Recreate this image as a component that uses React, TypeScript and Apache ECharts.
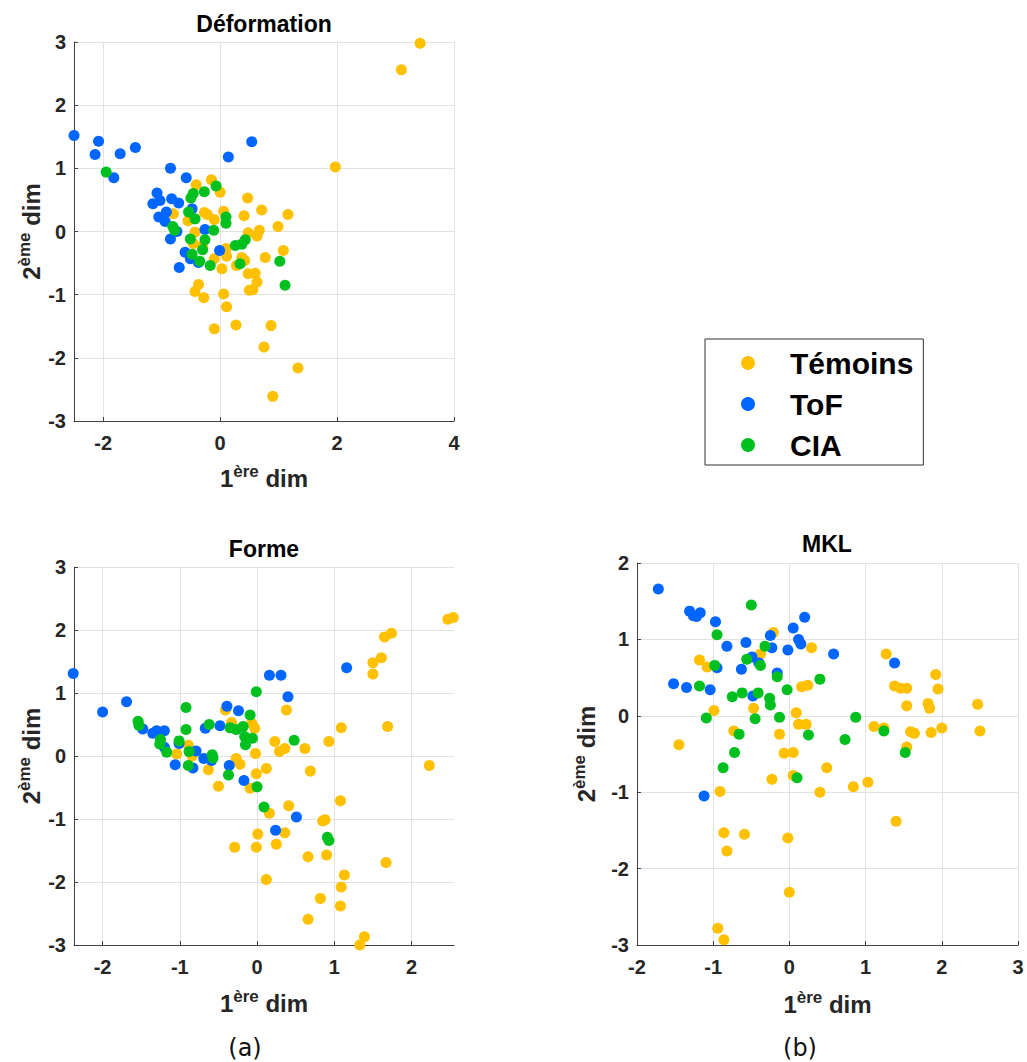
import React, { useEffect, useRef } from "react";
import * as echarts from "echarts";

const FONT = '"Liberation Sans", Arial, Helvetica, sans-serif';
const GROUPS = ["Témoins", "ToF", "CIA"];
const COLORS = ["#FFC000", "#0066FF", "#00C020"];

// ---- Déformation ----
const defTemoins = [
  [3.42, 2.98], [3.1, 2.56], [1.97, 1.02], [-0.41, 0.74], [-0.15, 0.82], [0.0, 0.62],
  [0.47, 0.53], [0.71, 0.34], [1.16, 0.27], [0.41, 0.25], [0.06, 0.32], [-0.27, 0.3],
  [-0.22, 0.27], [-0.1, 0.19], [-0.8, 0.28], [-0.55, 0.17], [-0.43, -0.01], [0.99, 0.08],
  [0.48, -0.02], [0.63, -0.07], [0.67, 0.02], [1.08, -0.3], [-0.46, -0.19], [-0.3, -0.23],
  [0.1, -0.27], [-0.1, -0.43], [0.03, -0.59], [0.11, -0.39], [0.28, -0.54], [0.37, -0.41],
  [0.42, -0.46], [0.77, -0.41], [0.48, -0.67], [0.6, -0.66], [0.63, -0.8], [0.5, -0.93],
  [0.56, -0.92], [-0.37, -0.84], [-0.43, -0.95], [-0.28, -1.05], [0.06, -0.99], [0.11, -1.19],
  [-0.1, -1.54], [0.27, -1.48], [0.87, -1.49], [0.75, -1.83], [1.33, -2.16], [0.9, -2.61],
];
const defToF = [
  [-2.5, 1.52], [-2.08, 1.43], [-2.14, 1.22], [-1.71, 1.23], [-1.45, 1.33], [-1.82, 0.85],
  [-0.85, 1.0], [-0.58, 0.85], [0.14, 1.18], [0.54, 1.42], [-1.08, 0.61], [-1.15, 0.44],
  [-1.03, 0.49], [-0.83, 0.52], [-0.71, 0.45], [-0.92, 0.31], [-1.05, 0.23], [-0.94, 0.16],
  [-0.74, 0.0], [-0.85, -0.12], [-0.48, 0.36], [-0.26, 0.03], [-0.6, -0.33], [-0.51, -0.43],
  [-0.7, -0.57], [-0.01, -0.3], [-0.37, -0.49],
];
const defCIA = [
  [-1.95, 0.94], [-0.07, 0.72], [-0.27, 0.63], [-0.46, 0.6], [-0.5, 0.53], [-0.54, 0.31],
  [-0.43, 0.2], [-0.81, 0.08], [-0.78, 0.02], [-0.51, -0.12], [-0.26, -0.13], [-0.11, 0.02],
  [0.1, 0.13], [0.1, 0.23], [-0.48, -0.36], [-0.3, -0.29], [-0.35, -0.47], [-0.17, -0.54],
  [0.26, -0.22], [0.37, -0.2], [0.43, -0.13], [0.34, -0.51], [1.02, -0.47], [1.11, -0.85],
];

// ---- Forme ----
const formeTemoins = [
  [2.47, 2.17], [2.54, 2.2], [1.65, 1.89], [1.74, 1.95], [1.5, 1.48], [1.61, 1.56], [1.5, 1.3],
  [0.38, 0.73], [1.09, 0.45], [1.69, 0.47], [0.93, 0.23], [0.62, 0.12], [0.23, 0.23], [0.29, 0.07],
  [0.36, 0.12], [0.69, -0.24], [2.23, -0.15], [-0.41, 0.73], [-0.33, 0.53], [-0.07, 0.52],
  [-0.03, 0.44], [-0.02, 0.04], [-0.27, -0.04], [-0.22, -0.13], [-0.01, -0.28], [0.12, -0.2],
  [-0.63, -0.22], [-0.5, -0.48], [-0.09, -0.51], [-1.04, 0.03], [-0.89, 0.17], [-0.84, 0.0],
  [1.08, -0.71], [0.41, -0.79], [0.16, -0.91], [0.85, -1.03], [0.88, -1.01], [0.01, -1.24],
  [0.36, -1.22], [-0.29, -1.45], [-0.01, -1.45], [0.25, -1.4], [0.66, -1.6], [0.9, -1.57],
  [1.67, -1.69], [0.12, -1.96], [1.13, -1.89], [1.09, -2.08], [0.82, -2.26], [1.08, -2.38],
  [0.66, -2.59], [1.39, -2.87], [1.33, -3.0],
];
const formeToF = [
  [-2.38, 1.31], [-2.0, 0.7], [-1.69, 0.86], [-1.48, 0.43], [-1.35, 0.36], [-1.3, 0.4],
  [-1.2, 0.4], [-1.2, 0.14], [-1.01, 0.2], [-0.79, 0.08], [-1.06, -0.14], [-0.83, -0.19],
  [-0.67, 0.44], [-0.48, 0.48], [-0.39, 0.79], [-0.24, 0.72], [-0.69, -0.04], [-0.59, -0.07],
  [-0.36, -0.15], [-0.17, -0.39], [0.16, 1.28], [0.31, 1.28], [0.4, 0.94], [1.16, 1.4],
  [0.51, -0.97], [0.24, -1.18],
];
const formeCIA = [
  [-1.54, 0.55], [-1.53, 0.49], [-1.25, 0.26], [-1.26, 0.19], [-1.17, 0.06], [-1.01, 0.24],
  [-0.92, 0.77], [-0.92, 0.42], [-0.88, 0.07], [-0.89, -0.15], [-0.62, 0.5], [-0.58, 0.02],
  [-0.57, -0.03], [-0.35, 0.45], [-0.27, 0.42], [-0.18, 0.47], [-0.09, 0.65], [-0.16, 0.31],
  [-0.06, 0.28], [-0.15, 0.18], [-0.01, 1.02], [0.48, 0.25], [-0.37, -0.3], [0.0, -0.49],
  [0.09, -0.81], [0.91, -1.29], [0.93, -1.34],
];

// ---- MKL ----
const mklTemoins = [
  [-0.21, 1.09], [0.29, 0.89], [-0.38, 0.81], [-1.18, 0.73], [-1.08, 0.64], [0.16, 0.38],
  [0.24, 0.4], [1.27, 0.81], [1.38, 0.39], [1.46, 0.36], [1.54, 0.36], [1.54, 0.13], [1.92, 0.54],
  [1.95, 0.35], [1.82, 0.16], [1.84, 0.1], [2.47, 0.15], [2.5, -0.2], [2.0, -0.16], [1.86, -0.22],
  [1.59, -0.21], [1.64, -0.23], [1.11, -0.14], [1.24, -0.16], [1.54, -0.41], [-0.99, 0.07],
  [-0.47, 0.1], [0.09, 0.04], [0.12, -0.11], [0.22, -0.11], [-0.73, -0.2], [-0.13, -0.24],
  [-1.45, -0.38], [-0.07, -0.49], [0.05, -0.48], [0.49, -0.68], [-0.23, -0.83], [0.05, -0.78],
  [-0.91, -0.99], [0.4, -1.0], [0.84, -0.93], [1.03, -0.87], [1.4, -1.38], [-0.86, -1.53],
  [-0.59, -1.55], [-0.02, -1.6], [-0.82, -1.77], [0.0, -2.31], [-0.94, -2.78], [-0.86, -2.93],
];
const mklToF = [
  [-1.72, 1.66], [-1.31, 1.37], [-1.22, 1.3], [-1.17, 1.35], [-1.26, 1.31], [-0.97, 1.23],
  [-0.82, 0.91], [-0.57, 0.96], [-0.49, 0.77], [-0.4, 0.69], [-0.25, 1.05], [-0.23, 0.89],
  [0.05, 1.15], [0.2, 1.29], [0.12, 1.0], [0.15, 0.94], [-0.02, 0.86], [0.58, 0.81], [1.38, 0.69],
  [-0.95, 0.63], [-0.63, 0.61], [-0.16, 0.56], [-1.52, 0.42], [-1.35, 0.37], [-1.04, 0.34],
  [-0.48, 0.26], [-1.12, -1.05],
];
const mklCIA = [
  [-0.5, 1.45], [-0.95, 1.06], [-0.32, 0.91], [-0.56, 0.74], [-0.38, 0.66], [-0.98, 0.66],
  [-0.16, 0.51], [0.4, 0.48], [-0.03, 0.34], [-1.18, 0.39], [-0.75, 0.25], [-0.62, 0.3],
  [-0.41, 0.3], [-0.26, 0.23], [-0.25, 0.14], [-1.09, -0.03], [-0.45, -0.04], [-0.13, -0.02],
  [0.87, -0.02], [-0.66, -0.24], [0.25, -0.25], [0.73, -0.31], [1.24, -0.2], [-0.72, -0.48],
  [1.52, -0.48], [-0.87, -0.68], [0.1, -0.81],
];

// ---- axes ----
const titles = ["Déformation", "Forme", "MKL"];
const defXTicks = [-2, 0, 2, 4];
const formeXTicks = [-2, -1, 0, 1, 2];
const mklXTicks = [-2, -1, 0, 1, 2, 3];
const yTicks = [-3, -2, -1, 0, 1, 2, 3];
const mklYTicks = [-3, -2, -1, 0, 1, 2];
const captions = ["(a)", "(b)"];

const nameRich = {
  n: { fontSize: 24, fontWeight: "bold", fontFamily: FONT, color: "#262626", lineHeight: 30 },
  s: { fontSize: 17, fontWeight: "bold", fontFamily: FONT, color: "#262626", lineHeight: 14, verticalAlign: "top" },
};

const labelStyle = { fontSize: 20, fontWeight: "bold", fontFamily: FONT, color: "#262626" };

function makeX(gridIndex: number, min: number, max: number, ticks: number[], nameGap: number) {
  return {
    type: "value",
    gridIndex,
    min,
    max,
    name: "{n|1}{s|ère}{n| dim}",
    nameLocation: "middle",
    nameGap,
    nameTextStyle: { rich: nameRich },
    axisLine: { show: true, onZero: false, lineStyle: { color: "#404040", width: 1 } },
    axisTick: { show: true, inside: true, length: 4, customValues: ticks, lineStyle: { color: "#404040" } },
    axisLabel: { ...labelStyle, margin: 12, customValues: ticks },
    splitLine: { show: true, lineStyle: { color: "#e2e2e2", width: 1 } },
  };
}

function makeY(gridIndex: number, min: number, max: number, ticks: number[], nameGap: number) {
  return {
    type: "value",
    gridIndex,
    min,
    max,
    interval: 1,
    name: "{n|2}{s|ème}{n| dim}",
    nameLocation: "middle",
    nameRotate: 90,
    nameGap,
    nameTextStyle: { rich: nameRich },
    axisLine: { show: true, onZero: false, lineStyle: { color: "#404040", width: 1 } },
    axisTick: { show: true, inside: true, length: 4, customValues: ticks, lineStyle: { color: "#404040" } },
    axisLabel: { ...labelStyle, margin: 8, customValues: ticks },
    splitLine: { show: true, lineStyle: { color: "#e2e2e2", width: 1 } },
  };
}

export default function App() {
  const ref = useRef<HTMLDivElement>(null);

  useEffect(() => {
    if (!ref.current) return;
    const chart = echarts.init(ref.current, null, { renderer: "svg" });

    const plots = [
      [defTemoins, defToF, defCIA],
      [formeTemoins, formeToF, formeCIA],
      [mklTemoins, mklToF, mklCIA],
    ];
    const series: any[] = [];
    plots.forEach((sets, p) => {
      sets.forEach((data, g) => {
        series.push({
          type: "scatter",
          name: GROUPS[g],
          xAxisIndex: p,
          yAxisIndex: p,
          data,
          symbol: "circle",
          symbolSize: 11,
          clip: false,
          itemStyle: { color: COLORS[g], opacity: 1 },
          emphasis: { disabled: true },
        });
      });
    });

    const option: any = {
      animation: false,
      backgroundColor: "#ffffff",
      color: COLORS,
      title: [
        { text: titles[0], left: 264, top: 12, textAlign: "center", padding: 0 },
        { text: titles[1], left: 264, top: 537, textAlign: "center", padding: 0 },
        { text: titles[2], left: 827, top: 532, textAlign: "center", padding: 0 },
      ].map((t) => ({
        ...t,
        textStyle: { fontSize: 23, fontWeight: "bold", fontFamily: FONT, color: "#000" },
      })),
      grid: [
        { left: 74, top: 42, width: 380, height: 379 },
        { left: 74, top: 567, width: 380, height: 378 },
        { left: 637, top: 563, width: 381, height: 382 },
      ],
      xAxis: [
        makeX(0, -2.5, 4, defXTicks, 42),
        makeX(1, -2.37, 2.55, formeXTicks, 43),
        makeX(2, -2, 3, mklXTicks, 44),
      ],
      yAxis: [
        makeY(0, -3, 3, yTicks, 28),
        makeY(1, -3, 3, yTicks, 28),
        makeY(2, -3, 2, mklYTicks, 36),
      ],
      legend: {
        data: GROUPS,
        orient: "vertical",
        left: 705,
        top: 339,
        padding: [9, 10, 5, 36],
        itemWidth: 14,
        itemHeight: 14,
        itemGap: 11,
        icon: "circle",
        borderColor: "#333",
        borderWidth: 1,
        backgroundColor: "#fff",
        selectedMode: false,
        textStyle: {
          fontSize: 30,
          fontWeight: "bold",
          fontFamily: FONT,
          color: "#000",
          lineHeight: 30,
          padding: [0, 0, 0, 30],
        },
      },
      graphic: [
        { type: "text", x: 245, y: 1048, style: { text: captions[0], fontSize: 24, fontFamily: '"DejaVu Sans"', fill: "#111", align: "center", verticalAlign: "middle" } },
        { type: "text", x: 800, y: 1048, style: { text: captions[1], fontSize: 24, fontFamily: '"DejaVu Sans"', fill: "#111", align: "center", verticalAlign: "middle" } },
      ],
      series,
    };

    chart.setOption(option);
    return () => chart.dispose();
  }, []);

  return (
    <div
      ref={ref}
      style={{ position: "absolute", left: 0, top: 0, width: 1027, height: 1062, background: "#fff" }}
    />
  );
}
